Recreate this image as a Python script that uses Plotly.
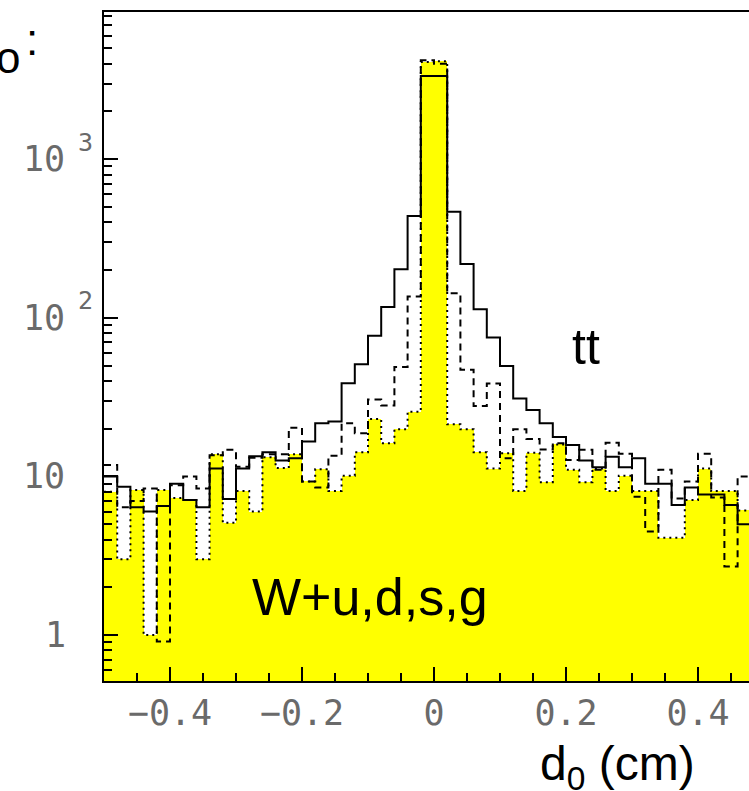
import plotly.graph_objects as go

# d0 binning: 50 bins of 0.02 cm between -0.5 and 0.5
edges = [round(-0.5 + 0.02 * i, 4) for i in range(51)]
centers = [round(e + 0.01, 4) for e in edges[:-1]]

# W + light-quark / gluon jets (yellow, dotted outline)
w_light = [8.0, 3.0, 8.2, 1.0, 8.2, 7.3, 7.1, 3.0, 13.8, 5.1,
           8.1, 6.0, 13.2, 11.3, 13.8, 9.3, 11.1, 8.1, 10.1, 14.2,
           23.0, 16.2, 19.8, 25.6, 4100, 4150, 21.3, 19.8, 14.2, 11.2,
           14.0, 8.1, 14.1, 9.2, 15.9, 11.0, 9.2, 11.2, 8.1, 10.1,
           8.1, 8.1, 4.1, 4.1, 7.1, 11.2, 8.1, 8.1, 6.1, 6.1]

# tt, solid histogram
tt_solid = [10.0, 8.6, 6.4, 6.0, 6.5, 9.0, 7.1, 6.4, 11.2, 7.2,
            11.2, 13.4, 14.2, 12.6, 13.0, 16.6, 21.6, 22.2, 38.6, 51,
            77, 117, 202, 438, 3350, 3350, 467, 218, 113, 75,
            49.7, 31, 26.2, 21.6, 17.7, 15.8, 12.6, 11.4, 13.3, 11.4,
            13.0, 9.0, 9.0, 6.6, 8.5, 7.7, 7.7, 6.6, 5.0, 5.0]

# tt, dashed histogram
tt_dashed = [11.8, 6.4, 7.0, 8.4, 0.91, 8.8, 10.0, 8.4, 13.6, 14.7,
             11.5, 13.1, 13.8, 13.8, 20.3, 9.3, 8.5, 13.5, 21.6, 18.7,
             30.5, 28, 49, 136, 4200, 3990, 143, 47, 27.8, 38.5,
             13.0, 19.8, 17.2, 14.8, 16.2, 12.7, 14.7, 11.0, 16.3, 13.9,
             7.45, 4.5, 11.0, 7.25, 9.3, 13.9, 7.35, 2.7, 10.0, 9.0]

x_major = [-0.4, -0.2, 0, 0.2, 0.4]
x_major_text = ["\u22120.4", "\u22120.2", "0", "0.2", "0.4"]
x_minor = [-0.45, -0.35, -0.3, -0.25, -0.15, -0.1, -0.05,
           0.05, 0.1, 0.15, 0.25, 0.3, 0.35, 0.45]
y_major = [1, 10, 100, 1000]
y_minor = [0.6, 0.7, 0.8, 0.9,
           2, 3, 4, 5, 6, 7, 8, 9,
           20, 30, 40, 50, 60, 70, 80, 90,
           200, 300, 400, 500, 600, 700, 800, 900,
           2000, 3000, 4000, 5000, 6000, 7000, 8000]

LEFT, RIGHT_PX, TOP, BOTTOM_PX = 104, 749, 12, 681
PW, PH = RIGHT_PX - LEFT, BOTTOM_PX - TOP


def px(xp):
    return (xp - LEFT) / PW


def py(yp):
    return (BOTTOM_PX - yp) / PH


def step(vals):
    return vals + [vals[-1]]


fig = go.Figure()

fig.add_trace(go.Bar(x=centers, y=w_light, width=0.02,
                     marker=dict(color="#ffff00", line=dict(width=0)),
                     hoverinfo="skip"))
fig.add_trace(go.Scatter(x=edges, y=step(w_light), mode="lines",
                         line=dict(shape="hv", color="black", width=2, dash="2px,4px")))
fig.add_trace(go.Scatter(x=edges, y=step(tt_solid), mode="lines",
                         line=dict(shape="hv", color="black", width=2)))
fig.add_trace(go.Scatter(x=edges, y=step(tt_dashed), mode="lines",
                         line=dict(shape="hv", color="black", width=2, dash="7px,5px")))

LABEL_GREY = "#6a6a6a"
tick_font = dict(family="DejaVu Sans Mono", size=35, color=LABEL_GREY)
text_font = "Liberation Sans, Arial, sans-serif"

annotations = []
# y tick labels: "10" with a raised exponent
for val, exp in [(3, "3"), (2, "2"), (1, None)]:
    annotations.append(dict(text="10", xref="paper", yref="y", x=px(67), y=val,
                            xanchor="right", yanchor="middle", showarrow=False,
                            font=tick_font))
    if exp:
        annotations.append(dict(text=exp, xref="paper", yref="y", x=px(76), y=val + 0.108,
                                xanchor="left", yanchor="middle", showarrow=False,
                                font=dict(family="DejaVu Sans Mono", size=25, color=LABEL_GREY)))
annotations.append(dict(text="1", xref="paper", yref="y", x=px(55), y=0,
                        xanchor="center", yanchor="middle", showarrow=False, font=tick_font))

annotations += [
    dict(text="tt", xref="paper", yref="paper", x=px(570), y=py(347),
         xanchor="left", yanchor="middle", showarrow=False,
         font=dict(family=text_font, size=50, color="black")),
    dict(text="W+u,d,s,g", xref="paper", yref="paper", x=px(250), y=py(597),
         xanchor="left", yanchor="middle", showarrow=False,
         font=dict(family=text_font, size=52, color="black")),
    dict(text="d<sub>0</sub> (cm)", xref="paper", yref="paper", x=px(538), y=py(767),
         xanchor="left", yanchor="middle", showarrow=False,
         font=dict(family=text_font, size=48, color="black")),
    dict(text="o", xref="paper", yref="paper", x=px(22), y=py(57.5),
         xanchor="right", yanchor="middle", showarrow=False,
         font=dict(family=text_font, size=44, color="black")),
    dict(text=":", xref="paper", yref="paper", x=px(32), y=py(39.5),
         xanchor="center", yanchor="middle", showarrow=False,
         font=dict(family=text_font, size=44, color="black")),
]

fig.update_layout(
    width=749, height=791,
    margin=dict(l=LEFT, r=0, t=TOP, b=791 - BOTTOM_PX),
    paper_bgcolor="white", plot_bgcolor="white",
    showlegend=False, bargap=0, barmode="overlay",
    annotations=annotations,
)
fig.update_xaxes(range=[-0.5, -0.5 + PW / 660.0],
                 showline=True, linewidth=2, linecolor="black", mirror=True,
                 ticks="inside", ticklen=14, tickwidth=2, tickcolor="black",
                 tickvals=x_major, ticktext=x_major_text, tickfont=tick_font,
                 minor=dict(tickvals=x_minor, ticks="inside", ticklen=8,
                            tickwidth=2, tickcolor="black", showgrid=False),
                 showgrid=False, zeroline=False)
fig.update_yaxes(type="log", range=[-0.290, 3.928],
                 showline=True, linewidth=2, linecolor="black", mirror=False,
                 ticks="inside", ticklen=14, tickwidth=2, tickcolor="black",
                 tickvals=y_major, showticklabels=False,
                 minor=dict(tickvals=y_minor, ticks="inside", ticklen=8,
                            tickwidth=2, tickcolor="black", showgrid=False),
                 showgrid=False, zeroline=False)

fig.write_html("out.html")
